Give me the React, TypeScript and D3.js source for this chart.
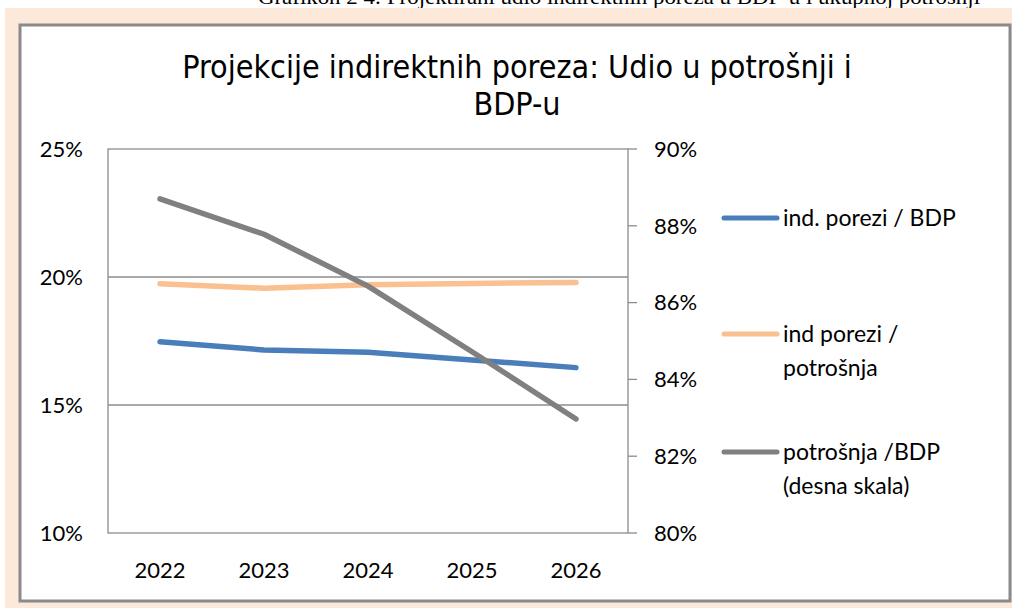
import React from "react"
import * as d3 from "d3"

// data
const years = ["2022", "2023", "2024", "2025", "2026"]
const indPoreziBdp = [17.47, 17.15, 17.06, 16.76, 16.46]
const indPoreziPotrosnja = [19.74, 19.56, 19.7, 19.75, 19.79]
const potrosnjaBdp = [88.7, 87.78, 86.43, 84.72, 82.97]
const leftTicks = [10, 15, 20, 25]
const rightTicks = [80, 82, 84, 86, 88, 90]

const series = [
  { name: ["ind. porezi / BDP"], values: indPoreziBdp, color: "#4A7EBB", axis: "left" },
  { name: ["ind porezi /", "potrošnja"], values: indPoreziPotrosnja, color: "#FAC090", axis: "left" },
  { name: ["potrošnja /BDP", "(desna skala)"], values: potrosnjaBdp, color: "#808080", axis: "right" },
]

const W = 1012, H = 608
const plot = { left: 108, right: 628, top: 149, bottom: 533 }
const labelFont = "Lato, 'Open Sans', sans-serif"

export default function App() {
  const x = d3.scaleBand().domain(years).range([plot.left, plot.right])
  const yLeft = d3.scaleLinear().domain([10, 25]).range([plot.bottom, plot.top])
  const yRight = d3.scaleLinear().domain([80, 90]).range([plot.bottom, plot.top])
  const cx = (d: string) => (x(d) as number) + x.bandwidth() / 2

  const legendY = [218, 334, 452]

  return (
    <svg width={W} height={H} style={{ position: "absolute", left: 0, top: 0 }}>
      <rect x={0} y={0} width={W} height={H} fill="#fff" />
      {/* caption of the page, cut off at the top like in the source */}
      <text x={258} y={4} fontFamily="'Liberation Serif', 'Times New Roman', serif" fontSize={21}
        textLength={722} lengthAdjust="spacingAndGlyphs" fill="#000">
        Grafikon 2 4: Projektirani udio indirektnih poreza u BDP-u i ukupnoj potrošnji
      </text>
      <rect x={5} y={8} width={W - 5} height={H - 8} fill="#FCE9DA" />
      <rect x={20} y={25} width={990} height={576} fill="#fff" stroke="#8A8A8A" strokeWidth={3} />

      {/* title */}
      <g fontFamily="'DejaVu Sans Condensed', 'DejaVu Sans', sans-serif" fontSize={32} fill="#000" textAnchor="middle">
        <text x={517} y={78}>Projekcije indirektnih poreza: Udio u potrošnji i</text>
        <text x={517} y={115}>BDP-u</text>
      </g>

      {/* plot frame and grid */}
      <rect x={plot.left} y={plot.top} width={plot.right - plot.left} height={plot.bottom - plot.top}
        fill="none" stroke="#8C8C8C" strokeWidth={1.3} />
      {leftTicks.slice(1, -1).map(t => (
        <line key={t} x1={plot.left} x2={plot.right} y1={yLeft(t)} y2={yLeft(t)} stroke="#8C8C8C" strokeWidth={1.3} />
      ))}
      {rightTicks.map(t => (
        <line key={t} x1={plot.right} x2={plot.right + 9} y1={yRight(t)} y2={yRight(t)} stroke="#8C8C8C" strokeWidth={1.3} />
      ))}

      {/* axis labels */}
      <g fontFamily={labelFont} fontSize={22} fill="#000">
        {leftTicks.map(t => (
          <text key={t} x={83} y={yLeft(t)} dy="0.35em" textAnchor="end">{t}%</text>
        ))}
        {rightTicks.map(t => (
          <text key={t} x={654} y={yRight(t)} dy="0.35em">{t}%</text>
        ))}
        {years.map(yr => (
          <text key={yr} x={cx(yr)} y={578} textAnchor="middle">{yr}</text>
        ))}
      </g>

      {/* lines */}
      {series.map(s => {
        const y = s.axis === "left" ? yLeft : yRight
        const line = d3.line<number>().x((_, i) => cx(years[i])).y(v => y(v))
        return <path key={s.color} d={line(s.values) || ""} fill="none" stroke={s.color} strokeWidth={5.5} strokeLinecap="round" strokeLinejoin="round" />
      })}

      {/* legend */}
      <g fontFamily={labelFont} fontSize={23} fill="#000">
        {series.map((s, i) => (
          <g key={s.color}>
            <line x1={724} x2={777} y1={legendY[i]} y2={legendY[i]} stroke={s.color} strokeWidth={5} strokeLinecap="round" />
            {s.name.map((n, j) => (
              <text key={n} x={783} y={legendY[i] + j * 34} dy="0.35em">{n}</text>
            ))}
          </g>
        ))}
      </g>
    </svg>
  )
}
